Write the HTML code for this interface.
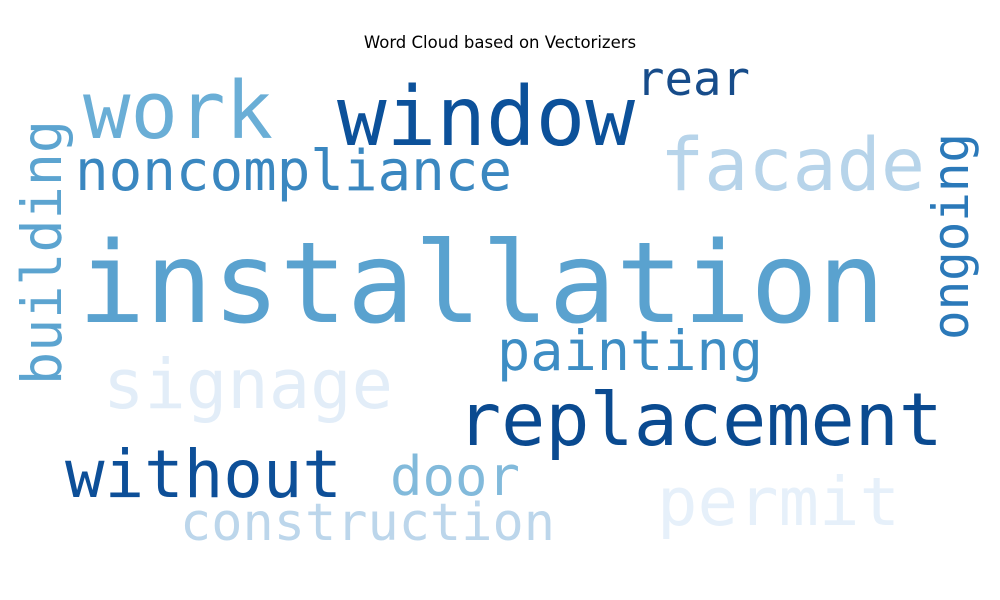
<!DOCTYPE html>
<html><head><meta charset="utf-8"><style>
html,body{margin:0;padding:0;background:#fff;width:1000px;height:600px;overflow:hidden}
svg text{font-family:"DejaVu Sans Mono","Liberation Mono",monospace}
</style></head><body>
<svg id="cloud" width="1000" height="600" viewBox="0 0 1000 600" xmlns="http://www.w3.org/2000/svg">
<text x="500" y="48" text-anchor="middle" style="font-family:'DejaVu Sans','Liberation Sans',sans-serif;font-size:16.5px" fill="#000">Word Cloud based on Vectorizers</text>
</svg>
<script>
const words = ["installation","window","work","rear","facade","noncompliance","building","ongoing","painting","signage","replacement","without","door","permit","construction"];
const sizes = [112,82,79,47,73,56,55,50,55,69,73,66,54,67,52];
const colors = ["#5aa2cf","#0c519a","#6aaed6","#174c8a","#b7d4ea","#3a87c0","#5ca4d0","#2b79b9","#3d8dc4","#e2edf8","#0a4a90","#0d4f98","#82badb","#e6f0fa","#bcd6eb"];
// layout: [x, y baseline, length, rotated]
const layout = [[78,322,807,0],[337,145,298,0],[83,138,190,0],[636,95,114,0],[660,190,265,0],[75,190,437,0],[61,385,265,1],[968,340,207,1],[497,370,266,0],[103,408,290,0],[457,445,486,0],[65,497,277,0],[390,495,130,0],[657,525,243,0],[180,540,375,0]];
const svg = document.getElementById('cloud');
words.forEach((w,i)=>{
  const [x,y,len,rot]=layout[i];
  const t=document.createElementNS('http://www.w3.org/2000/svg','text');
  
  
  t.setAttribute('x', rot?0:x);
  t.setAttribute('y', rot?0:y);
  if(rot) t.setAttribute('transform','translate('+x+','+y+') rotate(-90)');
  t.setAttribute('font-size', sizes[i]);
  t.setAttribute('fill', colors[i]);
  t.setAttribute('textLength', len);
  t.setAttribute('lengthAdjust','spacingAndGlyphs');
  t.textContent=w;
  svg.appendChild(t);
});
</script>
</body></html>
